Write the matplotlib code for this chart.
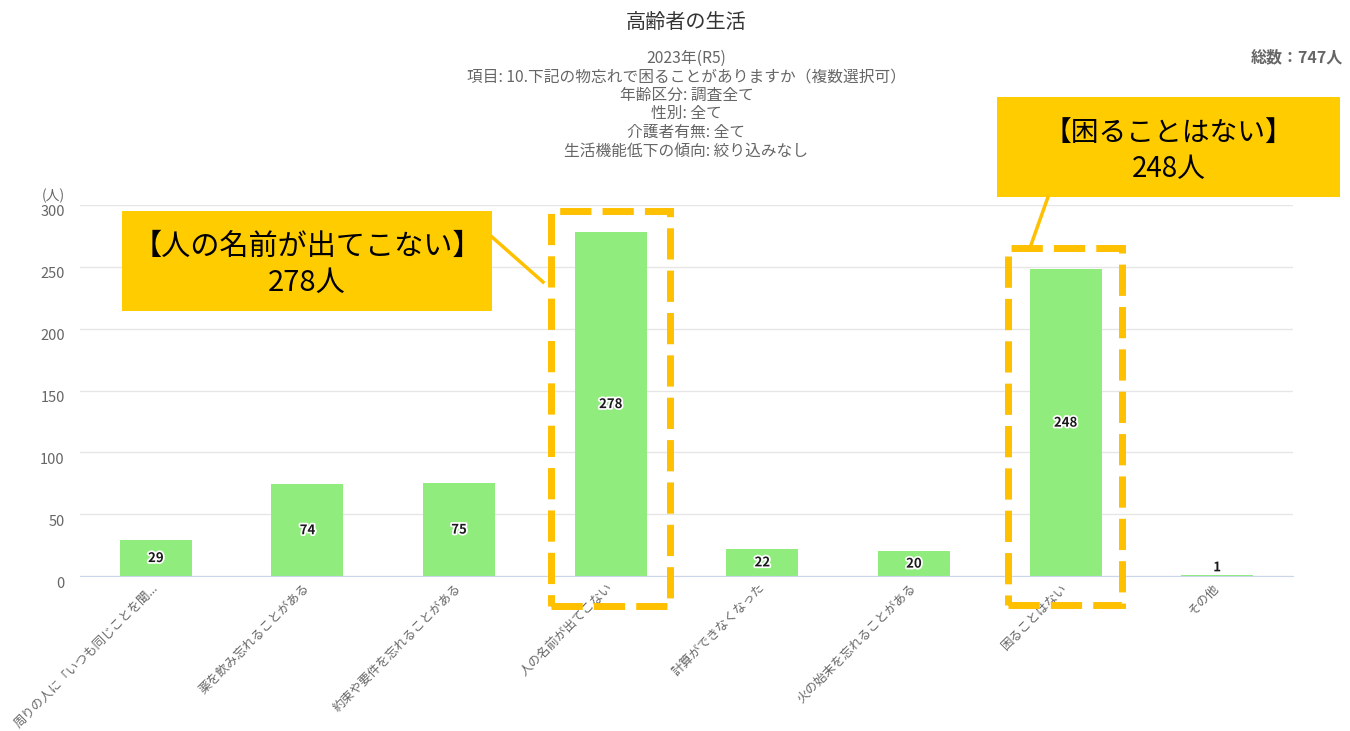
import numpy as np
import matplotlib
matplotlib.use("Agg")
import matplotlib.pyplot as plt
import matplotlib.patheffects as pe
from matplotlib.patches import Rectangle
from matplotlib.lines import Line2D
from matplotlib.transforms import ScaledTranslation

plt.rcParams['font.family'] = ['Noto Sans CJK JP', 'DejaVu Sans']

# data
categories = ["周りの人に「いつも同じことを聞...", "薬を飲み忘れることがある", "約束や要件を忘れることがある",
              "人の名前が出てこない", "計算ができなくなった", "火の始末を忘れることがある",
              "困ることはない", "その他"]
counts = [29, 74, 75, 278, 22, 20, 248, 1]
yticks = [0, 50, 100, 150, 200, 250, 300]
total = 747

title = "高齢者の生活"
subtitle = ["2023年(R5)",
            "項目: 10.下記の物忘れで困ることがありますか（複数選択可）",
            "年齢区分: 調査全て",
            "性別: 全て",
            "介護者有無: 全て",
            "生活機能低下の傾向: 絞り込みなし"]

W, H = 1350, 731
fig = plt.figure(figsize=(W / 100, H / 100), dpi=100)
ax = fig.add_axes([80 / W, 1 - 576 / H, (1293 - 80) / W, (576 - 205) / H])

x = np.arange(len(categories))
ax.bar(x, counts, width=0.475, color="#90ed7d", zorder=2)
ax.set_xlim(-0.5, len(categories) - 0.5)
ax.set_ylim(0, 300)

ax.set_yticks(yticks)
ax.yaxis.grid(True, color="#e6e6e6", lw=1, zorder=0)
ax.tick_params(axis='y', length=0, pad=11, labelsize=10.5, labelcolor="#666666")
for lab in ax.get_yticklabels():
    lab.set_transform(lab.get_transform() + ScaledTranslation(0, -0.06, fig.dpi_scale_trans))

ax.set_xticks(x)
ax.set_xticklabels(categories, rotation=45, ha='right', va='center',
                   rotation_mode='anchor', fontsize=9, color="#666666")
ax.tick_params(axis='x', length=0, pad=7)

for s in ['top', 'right', 'left']:
    ax.spines[s].set_visible(False)
ax.spines['bottom'].set_color("#ccd6eb")

# value labels
for xi, v in zip(x, counts):
    ax.text(xi, max(v / 2, 7), str(v), ha='center', va='center', fontsize=9.5,
            fontweight='bold', color="#1a1a1a", zorder=4,
            path_effects=[pe.withStroke(linewidth=2.5, foreground='white')])

fig.text(65 / W, 1 - 196 / H, "(人)", ha='right', va='center', fontsize=10, color="#666666")

# titles
cx = (80 + 1293) / 2 / W
fig.text(cx, 1 - 22 / H, title, ha='center', va='center', fontsize=14.5, color="#333333")
for i, line in enumerate(subtitle):
    fig.text(cx, 1 - (58 + i * 18.6) / H, line, ha='center', va='center', fontsize=11.3, color="#666666")
fig.text(1343 / W, 1 - 57 / H, "総数：{}人".format(total), ha='right', va='center',
         fontsize=11.5, fontweight='bold', color="#666666")

# highlight boxes (pixel coords -> figure fraction)
def px(xp, yp):
    return xp / W, 1 - yp / H

def dashed_rect(x0, y0, x1, y1):
    fx0, fy1 = px(x0, y0)
    fx1, fy0 = px(x1, y1)
    fig.add_artist(Rectangle((fx0, fy0), fx1 - fx0, fy1 - fy0, transform=fig.transFigure,
                             fill=False, edgecolor="#ffc000", lw=5, ls=(0, (4.5, 1.6)), zorder=5))

dashed_rect(551, 211, 670, 606)
dashed_rect(1008, 248, 1122, 605)

def callout(x0, y0, x1, y1, line1, line2, lx0, ly0, lx1, ly1, size):
    fx0, fy1 = px(x0, y0)
    fx1, fy0 = px(x1, y1)
    fig.add_artist(Rectangle((fx0, fy0), fx1 - fx0, fy1 - fy0, transform=fig.transFigure,
                             facecolor="#ffcc00", edgecolor='none', zorder=5))
    mx = (fx0 + fx1) / 2
    h = fy1 - fy0
    fig.text(mx, fy1 - h * 0.36, line1, ha='center', va='center', fontsize=size, color='black', zorder=6)
    fig.text(mx, fy1 - h * 0.72, line2, ha='center', va='center', fontsize=size, color='black', zorder=6)
    a, b = px(lx0, ly0)
    c, d = px(lx1, ly1)
    fig.add_artist(Line2D([a, c], [b, d], transform=fig.transFigure, color="#ffc000", lw=2.5, zorder=5))

callout(122, 211, 492, 311, "【人の名前が出てこない】", "{}人".format(counts[3]), 492, 237, 543, 282, 21)
callout(997, 97, 1340, 197, "【困ることはない】", "{}人".format(counts[6]), 1048, 197, 1031, 245, 20)

fig.savefig("out.png", dpi=100)
